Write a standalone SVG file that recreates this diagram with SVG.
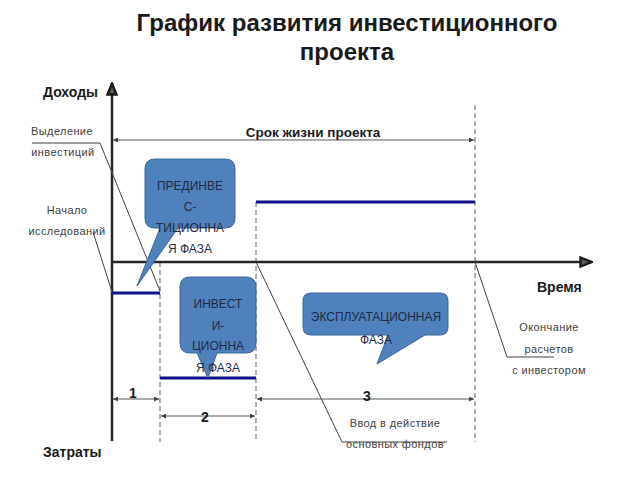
<svg xmlns="http://www.w3.org/2000/svg" width="640" height="480" viewBox="0 0 640 480">
<defs>
<style>
.title{font-family:"Liberation Sans",Arial,sans-serif;font-size:24px;font-weight:bold;fill:#1a1a1a;text-anchor:middle}
.bl{font-family:"Liberation Sans",Arial,sans-serif;font-size:14px;font-weight:bold;fill:#1a1a1a}
.num{font-family:"Liberation Sans",Arial,sans-serif;font-size:14px;font-weight:bold;fill:#1a1a1a;text-anchor:middle}
.lbl{font-family:"Liberation Sans",Arial,sans-serif;font-size:11px;fill:#404040;text-anchor:middle;letter-spacing:0.4px}
.ct{font-family:"Liberation Sans",Arial,sans-serif;font-size:12px;fill:#1f2a44;text-anchor:middle}
.call{fill:#4f81bd;stroke:#3b659a;stroke-width:1}
.axis{stroke:#262626;stroke-width:2.5;fill:none}
.dash{stroke:#7f7f7f;stroke-width:1.3;stroke-dasharray:5,3;fill:none}
.phase{stroke:#10108a;stroke-width:3;fill:none}
.lead{stroke:#404040;stroke-width:1;fill:none}
.dim{stroke:#595959;stroke-width:1.2;fill:none;marker-start:url(#sm);marker-end:url(#sm)}
</style>
<marker id="sm" viewBox="0 0 6 6" refX="6" refY="3" markerWidth="5" markerHeight="5" orient="auto-start-reverse" markerUnits="userSpaceOnUse">
<path d="M0,0 L6,3 L0,6 Z" fill="#404040"/>
</marker>
<marker id="ax" viewBox="0 0 14 12" refX="13" refY="6" markerWidth="14" markerHeight="12" orient="auto" markerUnits="userSpaceOnUse">
<path d="M1.5,1.5 L12.5,6 L1.5,10.5 Z" fill="#5a5a5a" stroke="#1a1a1a" stroke-width="2.4"/>
</marker>
</defs>
<rect width="640" height="480" fill="#ffffff"/>

<g id="title">
<text class="title" x="347" y="31">График развития инвестиционного</text>
<text class="title" x="347" y="60">проекта</text>
</g>

<g id="connectors">
<line class="dash" x1="160" y1="262" x2="160" y2="442"/>
<line class="dash" x1="256" y1="202" x2="256" y2="442"/>
<line class="dash" x1="475" y1="105" x2="475" y2="442"/>
<line class="axis" x1="112" y1="441" x2="112" y2="83" marker-end="url(#ax)"/>
<line class="axis" x1="112" y1="262" x2="592" y2="262" marker-end="url(#ax)"/>
<line class="phase" x1="112" y1="293" x2="160" y2="293"/>
<line class="phase" x1="160" y1="378" x2="256" y2="378"/>
<line class="phase" x1="256" y1="202" x2="475" y2="202"/>
<line class="dim" x1="113" y1="140" x2="474" y2="140"/>
<line class="dim" x1="113" y1="399" x2="159" y2="399"/>
<line class="dim" x1="161" y1="416" x2="255" y2="416"/>
<line class="dim" x1="257" y1="399" x2="474" y2="399"/>
<polyline class="lead" points="32,143 100,143 160,291"/>
<polyline class="lead" points="93,232 112,292"/>
<polyline class="lead" points="256,262 342,442 447,442"/>
<polyline class="lead" points="475,262 507,357 554,357"/>
</g>

<g id="axis-labels">
<text class="bl" x="43" y="97">Доходы</text>
<text class="bl" x="43" y="457">Затраты</text>
<text class="bl" x="537" y="292">Время</text>
<text class="bl" x="313" y="137" text-anchor="middle" style="font-size:13.5px">Срок жизни проекта</text>
<text class="num" x="133" y="398">1</text>
<text class="num" x="205" y="422">2</text>
<text class="num" x="367" y="401">3</text>
</g>

<g id="label-vydelenie">
<text class="lbl" x="62" y="135">Выделение</text>
<text class="lbl" x="63" y="156">инвестиций</text>
</g>
<g id="label-nachalo">
<text class="lbl" x="67" y="214">Начало</text>
<text class="lbl" x="67" y="235">исследований</text>
</g>
<g id="label-okonchanie">
<text class="lbl" x="549" y="331">Окончание</text>
<text class="lbl" x="549" y="353">расчетов</text>
<text class="lbl" x="549" y="374">с инвестором</text>
</g>
<g id="label-vvod">
<text class="lbl" x="395" y="427">Ввод в действие</text>
<text class="lbl" x="395" y="448">основных фондов</text>
</g>

<g id="callout-preinvest">
<path class="call" d="M155,159 H225 Q235,159 235,169 V218 Q235,228 225,228 H178 L137,286 L160,228 H155 Q145,228 145,218 V169 Q145,159 155,159 Z"/>
<text class="ct" x="190" y="190">ПРЕДИНВЕ</text>
<text class="ct" x="190" y="211">С-</text>
<text class="ct" x="190" y="232">ТИЦИОННА</text>
<text class="ct" x="190" y="253">Я ФАЗА</text>
</g>

<g id="callout-invest">
<path class="call" d="M190,277 H246 Q256,277 256,287 V343 Q256,353 246,353 H217 L208,378 L197,353 H190 Q180,353 180,343 V287 Q180,277 190,277 Z"/>
<text class="ct" x="218" y="308">ИНВЕСТ</text>
<text class="ct" x="218" y="330">И-</text>
<text class="ct" x="218" y="350">ЦИОННА</text>
<text class="ct" x="218" y="372">Я ФАЗА</text>
</g>

<g id="callout-exploit">
<path class="call" d="M311,293 H440 Q448,293 448,301 V327 Q448,335 440,335 H425 L377,364 L388,335 H311 Q303,335 303,327 V301 Q303,293 311,293 Z"/>
<text class="ct" x="376" y="321">ЭКСПЛУАТАЦИОННАЯ</text>
<text class="ct" x="376" y="344">ФАЗА</text>
</g>
</svg>
